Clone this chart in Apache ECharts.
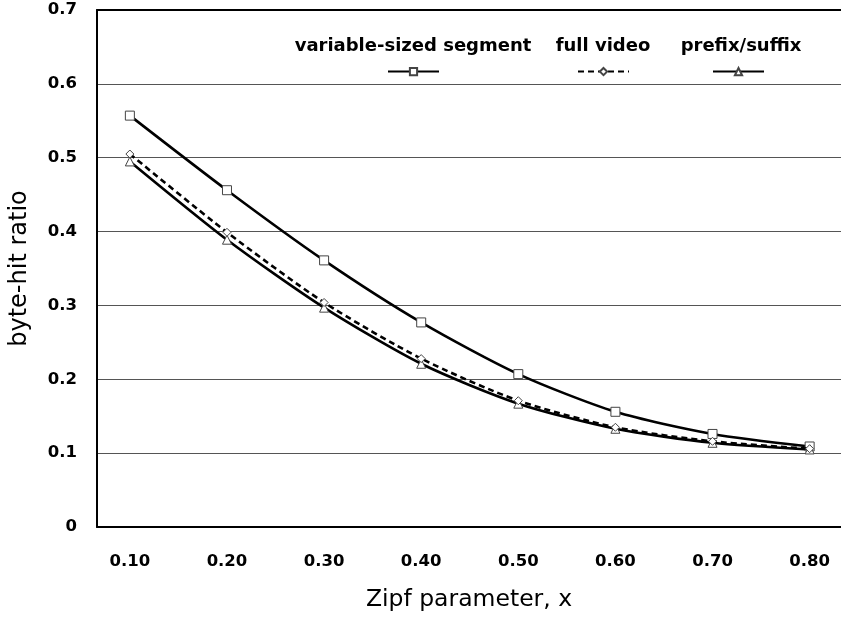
<!DOCTYPE html>
<html>
<head>
<meta charset="utf-8">
<script src="https://cdn.jsdelivr.net/npm/echarts@6/dist/echarts.min.js"></script>
<style>html,body{margin:0;padding:0;background:#fff}#c{width:841px;height:619px}</style>
</head>
<body>
<div id="c"></div>
<script>
var categories = [0.10, 0.20, 0.30, 0.40, 0.50, 0.60, 0.70, 0.80];
var variableSized = [0.557, 0.456, 0.361, 0.277, 0.207, 0.156, 0.126, 0.109];
var fullVideo = [0.505, 0.399, 0.304, 0.228, 0.171, 0.135, 0.116, 0.106];
var prefixSuffix = [0.495, 0.389, 0.297, 0.221, 0.167, 0.133, 0.114, 0.105];
var yTicks = [0, 0.1, 0.2, 0.3, 0.4, 0.5, 0.6, 0.7];
var seriesNames = ['variable-sized segment', 'full video', 'prefix/suffix'];

function pairs(vals){ return categories.map(function(c,i){ return [c, vals[i]]; }); }

var chart = echarts.init(document.getElementById('c'), null, {renderer:'canvas'});
var font = '"DejaVu Sans", Verdana, sans-serif';
var symStyle = {color:'#fff', borderColor:'#444', borderWidth:1};
function mk(name, vals, symbol, size, dashed){
  return {
    name: name, type:'line', smooth:0.25, data: pairs(vals),
    symbol: symbol, symbolSize: size, showAllSymbol:true,
    lineStyle:{color:'#000', width:2.6, type: dashed ? [6,4] : 'solid'},
    itemStyle: symStyle, z: dashed ? 3 : 2
  };
}
var legendCommon = {
  top: 67, itemWidth: 51, itemHeight: 9, padding: 0, itemGap: 0,
  formatter: function(){ return ''; },
  textStyle:{fontSize:1}, selectedMode:false
};
var xMin = 0.06615, xMax = 0.8323;
chart.setOption({
  animation:false,
  backgroundColor:'#fff',
  grid:{left:97, top:10, right:-3, bottom:92},
  legend:[
    Object.assign({}, legendCommon, {left:387, data:[seriesNames[0]]}),
    Object.assign({}, legendCommon, {left:577, data:[seriesNames[1]]}),
    Object.assign({}, legendCommon, {left:712, data:[seriesNames[2]]})
  ],
  graphic:[
    {type:'text', style:{text:seriesNames[0], x:413, y:46, align:'center', verticalAlign:'middle', font:'bold 18px '+font, fill:'#000'}},
    {type:'text', style:{text:seriesNames[1], x:603, y:46, align:'center', verticalAlign:'middle', font:'bold 18px '+font, fill:'#000'}},
    {type:'text', style:{text:seriesNames[2], x:741, y:46, align:'center', verticalAlign:'middle', font:'bold 18px '+font, fill:'#000'}}
  ],
  xAxis:[{
    type:'value', min:xMin, max:xMax,
    name:'Zipf parameter, x', nameLocation:'middle', nameGap:61,
    nameTextStyle:{fontSize:23.5, fontFamily:font, color:'#000'},
    axisLine:{show:true, lineStyle:{color:'#000', width:2}},
    axisTick:{show:false},
    splitLine:{show:false},
    axisLabel:{customValues: categories, formatter:function(v){return v.toFixed(2);}, margin:26, fontSize:16.5, fontWeight:'bold', fontFamily:font, color:'#000'}
  },{
    type:'value', min:xMin, max:xMax, position:'top',
    axisLine:{show:true, onZero:false, lineStyle:{color:'#000', width:2}},
    axisTick:{show:false}, axisLabel:{show:false}, splitLine:{show:false}
  }],
  yAxis:{
    type:'value', min:0, max:0.7, interval:0.1,
    name:'byte-hit ratio', nameLocation:'middle', nameGap:65,
    nameTextStyle:{fontSize:24, fontFamily:font, color:'#000'},
    axisLine:{show:true, lineStyle:{color:'#000', width:2}},
    axisTick:{show:false},
    splitLine:{show:true, lineStyle:{color:'#555', width:1}},
    axisLabel:{customValues: yTicks, formatter:function(v){return v===0?'0':v.toFixed(1);}, margin:20, fontSize:16.5, fontWeight:'bold', fontFamily:font, color:'#000'}
  },
  series:[
    mk(seriesNames[0], variableSized, 'rect', 9, false),
    mk(seriesNames[1], fullVideo, 'diamond', 8, true),
    mk(seriesNames[2], prefixSuffix, 'triangle', 9, false)
  ]
});
</script>
</body>
</html>
